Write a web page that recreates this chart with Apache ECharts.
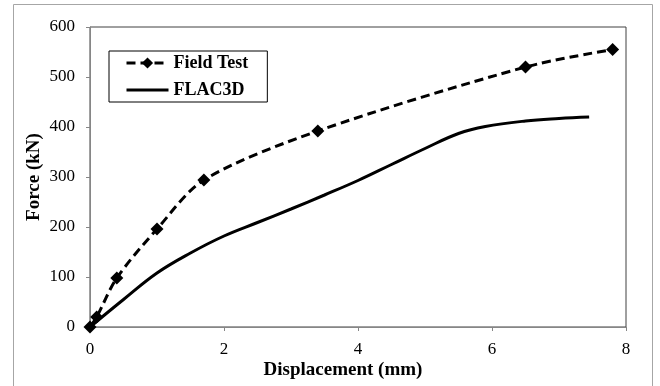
<!DOCTYPE html>
<html>
<head>
<meta charset="utf-8">
<script src="https://cdn.jsdelivr.net/npm/echarts@6/dist/echarts.min.js"></script>
</head>
<body style="margin:0;background:#fff;">
<div id="main" style="width: 660px;height:386px;"></div>
<script>
    // field test measurements (displacement mm, force kN)
    var fieldDisp = [0, 0.1, 0.4, 1.0, 1.7, 3.4, 6.5, 7.8];
    var fieldForce = [0, 20, 98, 196, 294, 392, 520, 555];

    // FLAC3D simulation curve
    var flacDisp = [0, 0.5, 1.0, 1.5, 2.0, 2.5, 3.0, 3.5, 4.0, 4.5, 5.0, 5.5, 5.9, 6.5, 7.0, 7.45];
    var flacForce = [0, 55, 108, 148, 182, 209, 236, 264, 293, 325, 357, 387, 401, 412, 417, 420];

    var xTicks = [0, 2, 4, 6, 8];
    var yTicks = [0, 100, 200, 300, 400, 500, 600];

    function pairs(xs, ys) {
        return xs.map(function (x, i) { return [x, ys[i]]; });
    }

    var font = 'Liberation Serif, Times New Roman, serif';
    var myChart = echarts.init(document.getElementById('main'));

    var option = {
        animation: false,
        backgroundColor: '#fff',
        textStyle: {fontFamily: font},
        graphic: [{
            type: 'rect',
            shape: {x: 13.5, y: 4.5, width: 639, height: 420},
            style: {fill: null, stroke: '#a6a6a6', lineWidth: 1}
        }],
        grid: {
            left: 90, right: 34, top: 27, bottom: 59,
            show: true,
            borderColor: '#404040',
            borderWidth: 1
        },
        legend: {
            orient: 'vertical',
            left: 109,
            top: 51,
            padding: [3, 19, 3, 16],
            itemWidth: 42,
            itemHeight: 14,
            itemGap: 9,
            borderColor: '#000',
            borderWidth: 1,
            backgroundColor: '#fff',
            lineStyle: {width: 3},
            textStyle: {fontFamily: font, fontWeight: 'bold', fontSize: 18, color: '#000'},
            data: [
                {name: 'Field Test'},
                {name: 'FLAC3D', itemStyle: {opacity: 0}}
            ]
        },
        xAxis: {
            type: 'value',
            min: xTicks[0],
            max: xTicks[xTicks.length - 1],
            interval: 2,
            name: 'Displacement (mm)',
            nameLocation: 'middle',
            nameGap: 34,
            nameMoveOverlap: false,
            nameTextStyle: {fontFamily: font, fontWeight: 'bold', fontSize: 19, color: '#000', padding: [0, 30, 0, 0]},
            axisLine: {lineStyle: {color: '#868686'}},
            axisTick: {show: true, length: 4, lineStyle: {color: '#868686'}},
            axisLabel: {fontFamily: font, fontSize: 17, color: '#000', margin: 14},
            splitLine: {show: false}
        },
        yAxis: {
            type: 'value',
            min: yTicks[0],
            max: yTicks[yTicks.length - 1],
            interval: 100,
            name: 'Force (kN)',
            nameLocation: 'middle',
            nameGap: 46,
            nameMoveOverlap: false,
            nameTextStyle: {fontFamily: font, fontWeight: 'bold', fontSize: 19, color: '#000'},
            axisLine: {show: true, lineStyle: {color: '#868686'}},
            axisTick: {show: true, length: 4, lineStyle: {color: '#868686'}},
            axisLabel: {fontFamily: font, fontSize: 17, color: '#000', margin: 15},
            splitLine: {show: false}
        },
        series: [
            {
                name: 'Field Test',
                type: 'line',
                data: pairs(fieldDisp, fieldForce),
                smooth: 0.3,
                symbol: 'diamond',
                symbolSize: 13,
                itemStyle: {color: '#000'},
                lineStyle: {color: '#000', width: 3, type: [9, 5]}
            },
            {
                name: 'FLAC3D',
                type: 'line',
                data: pairs(flacDisp, flacForce),
                smooth: 0.4,
                showSymbol: false,
                symbol: 'none',
                itemStyle: {color: '#000'},
                lineStyle: {color: '#000', width: 3}
            }
        ]
    };
    myChart.setOption(option);
</script>
</body>
</html>
